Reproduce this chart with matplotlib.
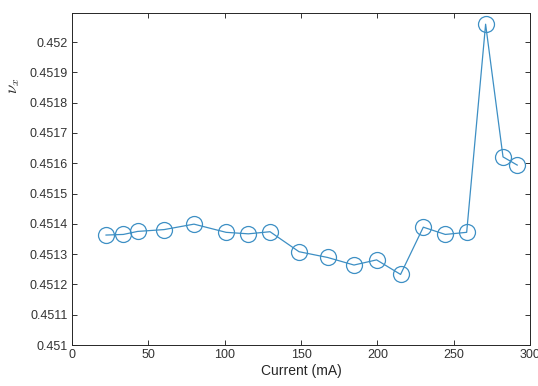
import numpy as np
import matplotlib
matplotlib.use('Agg')
import matplotlib.pyplot as plt

current_mA = [22.3, 33.6, 43.0, 60.3, 79.9, 100.9, 115.5, 129.7, 148.7, 167.4,
              184.7, 199.5, 215.2, 230.1, 244.5, 258.5, 270.9, 282.3, 291.6]
nu_x = [0.451363, 0.451365, 0.451375, 0.451381, 0.451399, 0.451372, 0.451367,
        0.451374, 0.451308, 0.451289, 0.451264, 0.451281, 0.451233, 0.451389,
        0.451365, 0.451372, 0.452059, 0.451621, 0.451594]

x_ticks = [0, 50, 100, 150, 200, 250, 300]
y_ticks = [0.451, 0.4511, 0.4512, 0.4513, 0.4514, 0.4515, 0.4516, 0.4517,
           0.4518, 0.4519, 0.452]
y_tick_labels = ['0.451', '0.4511', '0.4512', '0.4513', '0.4514', '0.4515',
                 '0.4516', '0.4517', '0.4518', '0.4519', '0.452']

plt.rcParams['font.family'] = ['Liberation Sans', 'DejaVu Sans']
plt.rcParams['mathtext.fontset'] = 'cm'

fig = plt.figure(figsize=(5.38, 3.86), dpi=100)
ax = fig.add_axes([0.1338, 0.1062, 0.8514, 0.8601])

ax.plot(current_mA, nu_x, color='#3d8fc4', linewidth=0.9, marker='o',
        markersize=11.5, markerfacecolor='none', markeredgecolor='#3d8fc4',
        markeredgewidth=0.9)

ax.set_xlim(0, 300)
ax.set_ylim(0.451, 0.452096)
ax.set_xticks(x_ticks)
ax.set_yticks(y_ticks)
ax.set_yticklabels(y_tick_labels)

ax.tick_params(direction='in', length=3.5, width=0.7, top=True, right=True,
               labelsize=9, colors='#333333', pad=3)
for s in ax.spines.values():
    s.set_color('#262626')
    s.set_linewidth(0.7)

ax.set_xlabel('Current (mA)', fontsize=10, color='#262626', labelpad=2)
ax.set_ylabel(r'$\nu_x$', fontsize=12, color='#262626')
ax.yaxis.set_label_coords(-0.11, 0.78)

fig.savefig('out.png', dpi=100)
